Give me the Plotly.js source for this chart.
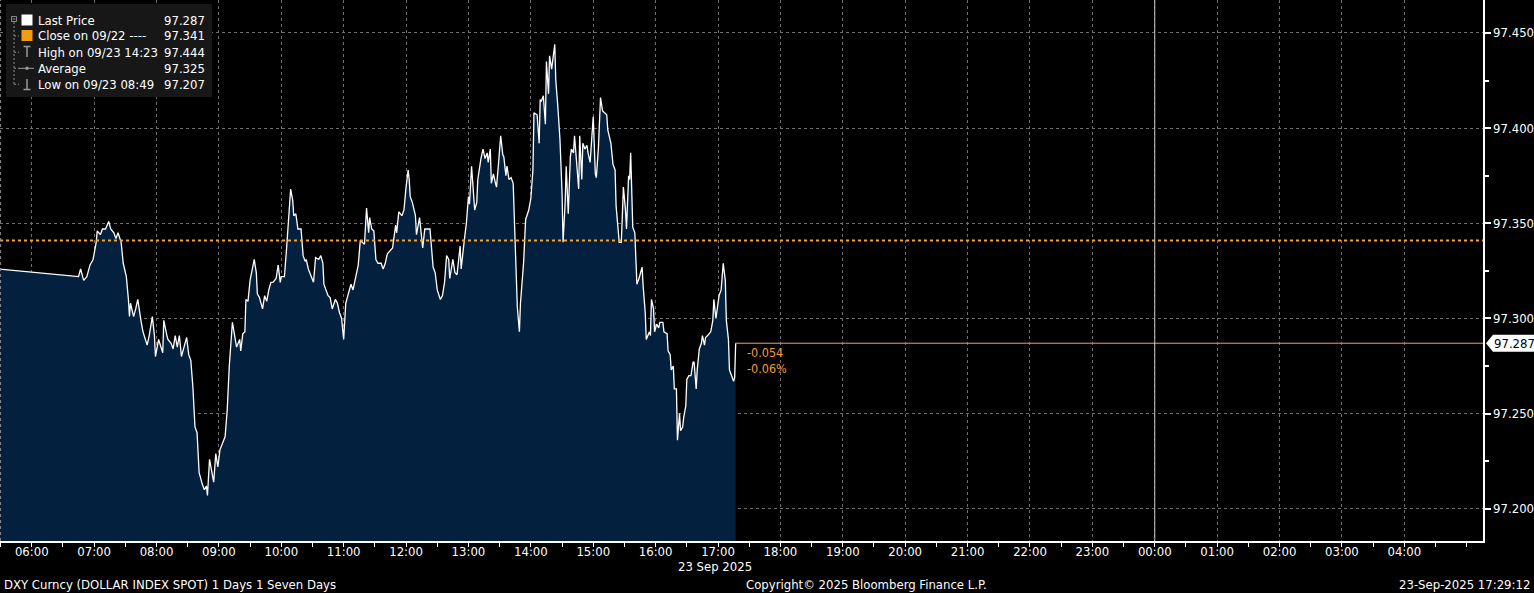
<!DOCTYPE html>
<html>
<head>
<meta charset="utf-8">
<script src="https://cdn.plot.ly/plotly-3.0.1.min.js"></script>
<style>
html,body{margin:0;padding:0;background:#000;}
#chart{width:1534px;height:593px;}
</style>
</head>
<body>
<div id="chart"></div>
<script>
// ---- data ----
const day = "2025-09-23";
const times = ["05:29","06:45","06:47","06:50","06:53","06:56","06:59","07:02","07:03","07:06","07:08","07:11","07:14","07:16","07:19","07:21","07:23","07:26","07:28","07:31","07:33","07:34","07:35","07:38","07:40","07:42","07:45","07:47","07:51","07:53","07:56","07:58","07:59","08:02","08:06","08:07","08:10","08:11","08:14","08:16","08:18","08:20","08:22","08:24","08:26","08:29","08:31","08:33","08:35","08:37","08:39","08:41","08:44","08:46","08:48","08:49","08:51","08:53","08:55","08:57","08:59","09:01","09:04","09:06","09:08","09:10","09:13","09:15","09:17","09:20","09:21","09:23","09:25","09:26","09:28","09:30","09:32","09:34","09:36","09:37","09:39","09:42","09:44","09:46","09:48","09:50","09:52","09:55","09:57","09:59","10:00","10:03","10:05","10:07","10:09","10:11","10:12","10:14","10:16","10:19","10:21","10:23","10:24","10:26","10:28","10:31","10:33","10:36","10:38","10:40","10:41","10:43","10:45","10:47","10:49","10:52","10:54","10:56","10:58","11:00","11:02","11:04","11:07","11:09","11:12","11:14","11:16","11:18","11:20","11:22","11:24","11:25","11:27","11:29","11:31","11:33","11:36","11:38","11:40","11:42","11:45","11:47","11:48","11:50","11:51","11:53","11:56","11:58","12:00","12:02","12:03","12:04","12:06","12:09","12:10","12:12","12:13","12:16","12:18","12:20","12:23","12:26","12:28","12:30","12:33","12:35","12:37","12:39","12:41","12:42","12:45","12:47","12:49","12:52","12:53","12:56","12:58","13:00","13:01","13:03","13:05","13:06","13:08","13:09","13:12","13:14","13:16","13:18","13:19","13:21","13:22","13:24","13:26","13:27","13:29","13:31","13:33","13:34","13:36","13:37","13:39","13:41","13:43","13:44","13:46","13:47","13:49","13:50","13:53","13:55","13:58","14:00","14:02","14:03","14:06","14:08","14:09","14:10","14:12","14:14","14:15","14:17","14:18","14:20","14:23","14:24","14:26","14:28","14:30","14:31","14:33","14:34","14:36","14:38","14:39","14:41","14:42","14:44","14:46","14:47","14:49","14:50","14:52","14:54","14:55","14:57","14:58","15:00","15:02","15:03","15:05","15:06","15:07","15:09","15:11","15:13","15:14","15:17","15:19","15:21","15:22","15:25","15:27","15:29","15:31","15:32","15:34","15:35","15:36","15:38","15:40","15:42","15:44","15:47","15:48","15:50","15:51","15:54","15:55","15:56","15:58","15:59","16:01","16:03","16:04","16:07","16:08","16:11","16:12","16:14","16:15","16:17","16:18","16:20","16:21","16:23","16:24","16:26","16:27","16:29","16:30","16:32","16:34","16:36","16:37","16:39","16:40","16:42","16:44","16:45","16:47","16:48","16:50","16:52","16:53","16:55","16:56","16:58","17:00","17:01","17:03","17:05","17:07","17:08","17:10","17:11","17:13","17:15","17:16","17:17"];
const prices = [97.326,97.322,97.326,97.320,97.322,97.328,97.331,97.340,97.346,97.344,97.347,97.347,97.351,97.347,97.345,97.342,97.345,97.340,97.329,97.322,97.310,97.301,97.308,97.301,97.305,97.310,97.299,97.293,97.286,97.291,97.301,97.291,97.280,97.289,97.282,97.299,97.291,97.289,97.287,97.284,97.291,97.285,97.291,97.280,97.284,97.290,97.281,97.278,97.264,97.243,97.240,97.219,97.213,97.210,97.212,97.207,97.226,97.219,97.214,97.229,97.222,97.231,97.235,97.238,97.252,97.275,97.298,97.292,97.285,97.289,97.283,97.292,97.293,97.310,97.309,97.320,97.326,97.331,97.324,97.313,97.311,97.305,97.312,97.309,97.315,97.319,97.319,97.321,97.328,97.319,97.322,97.322,97.336,97.350,97.368,97.362,97.354,97.355,97.347,97.347,97.333,97.330,97.331,97.326,97.323,97.319,97.332,97.331,97.333,97.329,97.318,97.315,97.312,97.311,97.305,97.310,97.308,97.303,97.300,97.289,97.308,97.312,97.318,97.315,97.324,97.328,97.341,97.340,97.339,97.358,97.345,97.353,97.347,97.346,97.331,97.329,97.329,97.326,97.329,97.334,97.336,97.337,97.341,97.349,97.345,97.356,97.354,97.357,97.369,97.378,97.373,97.364,97.361,97.354,97.344,97.349,97.353,97.337,97.347,97.347,97.347,97.327,97.324,97.315,97.310,97.312,97.319,97.333,97.331,97.321,97.331,97.324,97.323,97.338,97.326,97.341,97.350,97.364,97.360,97.380,97.366,97.357,97.361,97.373,97.384,97.389,97.384,97.387,97.382,97.389,97.371,97.376,97.371,97.369,97.382,97.396,97.386,97.385,97.375,97.380,97.373,97.374,97.371,97.354,97.324,97.306,97.293,97.308,97.329,97.352,97.357,97.363,97.378,97.408,97.407,97.392,97.415,97.414,97.417,97.402,97.435,97.418,97.438,97.431,97.444,97.425,97.411,97.394,97.366,97.340,97.361,97.380,97.355,97.385,97.389,97.387,97.396,97.382,97.368,97.396,97.373,97.392,97.389,97.391,97.387,97.382,97.392,97.406,97.376,97.374,97.390,97.401,97.416,97.409,97.408,97.407,97.399,97.392,97.381,97.378,97.359,97.340,97.340,97.369,97.357,97.347,97.375,97.373,97.387,97.348,97.345,97.318,97.321,97.327,97.317,97.303,97.289,97.293,97.291,97.310,97.305,97.293,97.297,97.295,97.298,97.298,97.293,97.292,97.283,97.281,97.273,97.275,97.263,97.263,97.236,97.250,97.241,97.243,97.248,97.254,97.268,97.270,97.270,97.277,97.277,97.263,97.273,97.284,97.287,97.291,97.286,97.290,97.291,97.292,97.293,97.299,97.310,97.300,97.310,97.312,97.315,97.329,97.320,97.299,97.289,97.273,97.270,97.267,97.269,97.287];

const closePrev = 97.341;
const lastPrice = 97.287;
const netChange = "-0.054";
const pctChange = "-0.06%";
const legendLabels = ["Last Price","Close on 09/22 ----","High on 09/23 14:23","Average","Low on 09/23 08:49"];
const legendValues = ["97.287","97.341","97.444","97.325","97.207"];
const xRange = ["2025-09-23 05:29:30","2025-09-24 05:15:40"];
const xTickFirst = "2025-09-23 06:00";
const xTickCount = 23;              // 06:00 ... 04:00
const yRange = [97.1831, 97.4673];
const footerLeft = "DXY Curncy (DOLLAR INDEX SPOT) 1 Days 1 Seven Days";
const footerCenter = "Copyright\u00A9 2025 Bloomberg Finance L.P.";
const footerRight = "23-Sep-2025 17:29:12";
const dateLabel = "23 Sep 2025";

// ---- drawing ----
const FONT = '"DejaVu Sans Condensed", "Liberation Sans Narrow", "DejaVu Sans", sans-serif';
const xs = times.map(t => day + " " + t);
const lastTime = xs[xs.length - 1];
const PW = 1483, PH = 541;          // plot area in px
const px = v => v / PW;
const py = v => 1 - v / PH;

// hourly tick positions (layout only)
const pad = n => String(n).padStart(2, "0");
const t0 = new Date(xTickFirst.replace(" ", "T") + ":00Z").getTime();
const tickvals = [], ticktext = [];
for (let i = 0; i < xTickCount; i++) {
  const d = new Date(t0 + i * 3600000);
  tickvals.push(d.getUTCFullYear() + "-" + pad(d.getUTCMonth() + 1) + "-" + pad(d.getUTCDate()) + " " + pad(d.getUTCHours()) + ":00");
  ticktext.push(pad(d.getUTCHours()) + ":00");
}

const trace = {
  x: xs, y: prices, type: "scatter", mode: "lines",
  line: {color: "#ffffff", width: 1.3},
  fill: "tozeroy", fillcolor: "#03203f",
  hoverinfo: "skip"
};

const shapes = [
  {type:"line", xref:"paper", x0:0, x1:1, yref:"y", y0:closePrev, y1:closePrev,
   line:{color:"#f7a233", width:2, dash:"dot"}, layer:"above"},
  {type:"line", xref:"x", x0:lastTime, x1:xRange[1], yref:"y", y0:lastPrice, y1:lastPrice,
   line:{color:"#f2a06a", width:1}, layer:"above"},
  {type:"line", xref:"x", x0:"2025-09-24 00:00", x1:"2025-09-24 00:00", yref:"paper", y0:0, y1:1,
   line:{color:"#c8c8c8", width:1}, layer:"above"},
  {type:"line", xref:"paper", x0:0.0004, x1:0.0004, yref:"paper", y0:0, y1:1,
   line:{color:"#8a8a8a", width:1, dash:"dot"}, layer:"above"},
  {type:"path", xref:"paper", xsizemode:"pixel", xanchor:1, yref:"y", ysizemode:"pixel", yanchor:lastPrice,
   path:"M 3 0 L 10 8.5 L 51 8.5 L 51 -8.5 L 10 -8.5 Z", fillcolor:"#ffffff", line:{width:0}, layer:"above"},
  {type:"rect", xref:"paper", yref:"paper", x0:px(6), x1:px(212), y0:py(97), y1:py(4),
   fillcolor:"#171717", line:{width:0}, layer:"above"},
  {type:"rect", xref:"paper", yref:"paper", x0:px(21.5), x1:px(32.5), y0:py(25.5), y1:py(14.5),
   fillcolor:"#ffffff", line:{width:0}, layer:"above"},
  {type:"rect", xref:"paper", yref:"paper", x0:px(21.5), x1:px(32.5), y0:py(41), y1:py(30),
   fillcolor:"#f39c12", line:{width:0}, layer:"above"},
  {type:"line", xref:"paper", yref:"paper", x0:px(23.5), x1:px(30.5), y0:py(46.5), y1:py(46.5), line:{color:"#9a9a9a", width:1.5}, layer:"above"},
  {type:"line", xref:"paper", yref:"paper", x0:px(27), x1:px(27), y0:py(46.5), y1:py(57), line:{color:"#9a9a9a", width:1.5}, layer:"above"},
  {type:"line", xref:"paper", yref:"paper", x0:px(19), x1:px(34), y0:py(68.3), y1:py(68.3), line:{color:"#9a9a9a", width:1}, layer:"above"},
  {type:"circle", xref:"paper", yref:"paper", x0:px(25.3), x1:px(28.7), y0:py(70), y1:py(66.6), fillcolor:"#9a9a9a", line:{width:0}, layer:"above"},
  {type:"line", xref:"paper", yref:"paper", x0:px(27), x1:px(27), y0:py(79), y1:py(89.5), line:{color:"#9a9a9a", width:1.5}, layer:"above"},
  {type:"line", xref:"paper", yref:"paper", x0:px(23.5), x1:px(30.5), y0:py(89.5), y1:py(89.5), line:{color:"#9a9a9a", width:1.5}, layer:"above"},
  {type:"rect", xref:"paper", yref:"paper", x0:px(11.5), x1:px(16.5), y0:py(21.5), y1:py(16.5), fillcolor:"rgba(0,0,0,0)", line:{color:"#8a8a8a", width:1}, layer:"above"},
  {type:"line", xref:"paper", yref:"paper", x0:px(12.5), x1:px(15.5), y0:py(19), y1:py(19), line:{color:"#8a8a8a", width:1}, layer:"above"},
  {type:"line", xref:"paper", yref:"paper", x0:px(14), x1:px(14), y0:py(22), y1:py(84.5), line:{color:"#8a8a8a", width:1, dash:"2px,2px"}, layer:"above"}
];
[36, 52.3, 68.3, 84.3].forEach(yy => shapes.push(
  {type:"line", xref:"paper", yref:"paper", x0:px(14), x1:px(19), y0:py(yy), y1:py(yy),
   line:{color:"#8a8a8a", width:1, dash:"2px,2px"}, layer:"above"}));

const rowY = [20.7, 36, 52.3, 68.3, 84.3];
const annotations = [];
legendLabels.forEach((lab, i) => {
  annotations.push({xref:"paper", yref:"paper", x:px(36), y:py(rowY[i]), xanchor:"left", yanchor:"middle",
    text:lab, showarrow:false, font:{family:FONT, size:13, color:"#ffffff"}});
  annotations.push({xref:"paper", yref:"paper", x:px(207), y:py(rowY[i]), xanchor:"right", yanchor:"middle",
    text:legendValues[i], showarrow:false, font:{family:FONT, size:13, color:"#ffffff"}});
});
annotations.push(
  {xref:"x", yref:"y", x:lastTime, y:lastPrice, xanchor:"left", yanchor:"middle", xshift:9, yshift:-9,
   text:netChange, showarrow:false, font:{family:FONT, size:12.5, color:"#f39c2c"}},
  {xref:"x", yref:"y", x:lastTime, y:lastPrice, xanchor:"left", yanchor:"middle", xshift:9, yshift:-25,
   text:pctChange, showarrow:false, font:{family:FONT, size:12.5, color:"#f39c2c"}},
  {xref:"paper", yref:"y", x:1, y:lastPrice, xanchor:"left", yanchor:"middle", xshift:9,
   text:lastPrice.toFixed(3), showarrow:false, font:{family:FONT, size:13, color:"#000000"}},
  {xref:"x", yref:"paper", x:day + " 17:00", y:(PH-566.5)/PH, xanchor:"center", yanchor:"middle", xshift:-3,
   text:dateLabel, showarrow:false, font:{family:FONT, size:13, color:"#ffffff"}},
  {xref:"paper", yref:"paper", x:px(2), y:(PH-584)/PH, xanchor:"left", yanchor:"middle",
   text:footerLeft, showarrow:false, font:{family:FONT, size:13, color:"#ffffff"}},
  {xref:"paper", yref:"paper", x:px(866), y:(PH-584)/PH, xanchor:"center", yanchor:"middle",
   text:footerCenter, showarrow:false, font:{family:FONT, size:13, color:"#ffffff"}},
  {xref:"paper", yref:"paper", x:px(1532), y:(PH-584)/PH, xanchor:"right", yanchor:"middle",
   text:footerRight, showarrow:false, font:{family:FONT, size:13, color:"#ffffff"}}
);

const layout = {
  width: 1534, height: 593,
  margin: {l:0, r:51, t:0, b:52, pad:0},
  paper_bgcolor: "#000000", plot_bgcolor: "#000000",
  showlegend: false,
  xaxis: {
    type:"date", range:xRange, tickmode:"array", tickvals:tickvals, ticktext:ticktext,
    showgrid:true, gridcolor:"#6e6e6e", griddash:"dot", gridwidth:1,
    showline:true, linecolor:"#ffffff", linewidth:1.5,
    ticks:"outside", ticklen:3, tickcolor:"#ffffff", ticklabelstandoff:-5,
    minor:{dtick:1800000, tick0:xTickFirst, ticks:"outside", ticklen:4, tickcolor:"#ffffff", showgrid:false},
    tickfont:{family:FONT, size:13, color:"#ffffff"},
    zeroline:false, fixedrange:true
  },
  yaxis: {
    side:"right", range:yRange, dtick:0.05, tick0:97.2, tickformat:".3f",
    showgrid:true, gridcolor:"#6e6e6e", griddash:"dot", gridwidth:1,
    showline:true, linecolor:"#ffffff", linewidth:1.5,
    ticks:"outside", ticklen:6, tickwidth:2, tickcolor:"#ffffff",
    minor:{dtick:0.025, ticks:"outside", ticklen:4, tickcolor:"#ffffff", showgrid:false},
    tickfont:{family:FONT, size:13, color:"#ffffff"},
    zeroline:false, fixedrange:true
  },
  shapes: shapes,
  annotations: annotations
};

Plotly.newPlot("chart", [trace], layout, {staticPlot:true, displayModeBar:false});
</script>
</body>
</html>
